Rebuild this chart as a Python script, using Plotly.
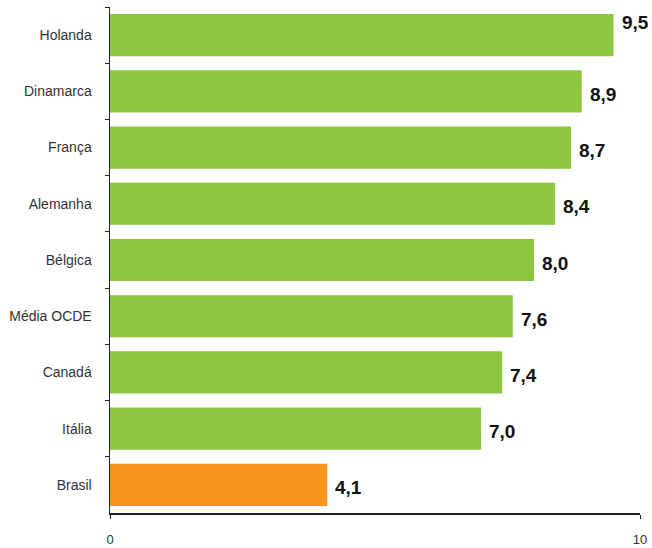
import plotly.graph_objects as go

countries = ["Holanda", "Dinamarca", "França", "Alemanha", "Bélgica",
             "Média OCDE", "Canadá", "Itália", "Brasil"]
values = [9.5, 8.9, 8.7, 8.4, 8.0, 7.6, 7.4, 7.0, 4.1]
value_labels = ["9,5", "8,9", "8,7", "8,4", "8,0", "7,6", "7,4", "7,0", "4,1"]
colors = ["#8DC63F"] * 8 + ["#F7941E"]

fig = go.Figure()
fig.add_trace(go.Bar(
    x=values, y=countries, orientation="h",
    marker=dict(color=colors, line=dict(width=0)),
    width=0.75, hoverinfo="skip",
))

for c, v, t in zip(countries, values, value_labels):
    fig.add_annotation(
        x=v, y=c, xref="x", yref="y", text="<b>" + t + "</b>", showarrow=False,
        xanchor="left", yanchor="middle", xshift=6,
        yshift=13 if v >= 9.3 else -3,
        font=dict(family="Liberation Sans, Arial", size=19, color="#111111"),
    )

fig.update_layout(
    width=652, height=548,
    margin=dict(l=110, r=12, t=7, b=35, autoexpand=False),
    paper_bgcolor="white", plot_bgcolor="white",
    showlegend=False, bargap=0.25,
    font=dict(family="Liberation Sans, Arial", size=14, color="#333333"),
)
fig.update_yaxes(
    autorange="reversed", tickson="boundaries", ticks="outside", ticklen=4,
    tickcolor="#222", showline=True, linecolor="#222", linewidth=1.5,
    showgrid=False, ticklabelstandoff=14, automargin=False,
    tickfont=dict(size=14, color="#333333"),
)
fig.update_xaxes(
    range=[0, 10], tickvals=[0, 10], ticktext=["0", "10"], ticks="outside",
    ticklen=4, tickcolor="#222", showline=True, linecolor="#222", linewidth=1.5,
    showgrid=False, zeroline=False, ticklabelstandoff=10, automargin=False,
    tickfont=dict(size=13, color="#333333"),
)

fig.write_html(
    "out.html",
    config={"displayModeBar": False, "staticPlot": True},
    post_script="document.body.style.margin='0';"
                "document.documentElement.style.overflow='hidden';",
)
